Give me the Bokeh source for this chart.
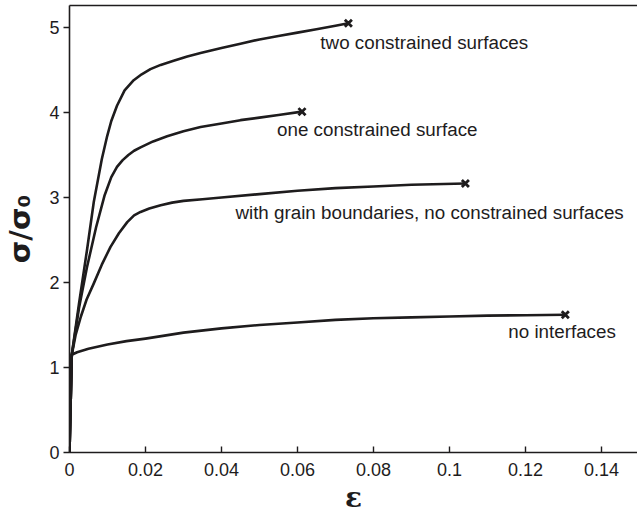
from bokeh.plotting import figure
from bokeh.models import ColumnDataSource, LinearAxis, FixedTicker
from bokeh.core.properties import value
from bokeh.embed import file_html
from bokeh.resources import INLINE

# Normalised stress-strain curves (strain, sigma / sigma_0)
strain_none = [0, 0.0006, 0.002, 0.005, 0.01, 0.015, 0.02, 0.03, 0.04, 0.05,
               0.06, 0.07, 0.08, 0.09, 0.10, 0.11, 0.12, 0.1305]
stress_none = [0, 1.15, 1.18, 1.22, 1.27, 1.31, 1.34, 1.41, 1.46, 1.50,
               1.53, 1.56, 1.58, 1.59, 1.60, 1.61, 1.615, 1.62]

strain_grain = [0, 0.0006, 0.0016, 0.003, 0.0045, 0.0064, 0.0085, 0.0108,
                0.013, 0.0152, 0.017, 0.0187, 0.021, 0.024, 0.027, 0.03,
                0.035, 0.04, 0.05, 0.06, 0.07, 0.08, 0.09, 0.1042]
stress_grain = [0, 1.15, 1.38, 1.60, 1.80, 1.99, 2.21, 2.42,
                2.58, 2.71, 2.79, 2.83, 2.87, 2.91, 2.94, 2.96,
                2.98, 3.00, 3.04, 3.08, 3.11, 3.13, 3.15, 3.165]

strain_one = [0, 0.0006, 0.0025, 0.0046, 0.007, 0.0092, 0.011, 0.0125,
              0.014, 0.0155, 0.017, 0.0187, 0.022, 0.0257, 0.03, 0.0345,
              0.04, 0.045, 0.05, 0.055, 0.0612]
stress_one = [0, 1.15, 1.70, 2.18, 2.65, 3.02, 3.24, 3.36,
              3.44, 3.50, 3.55, 3.59, 3.66, 3.72, 3.78, 3.83,
              3.87, 3.91, 3.94, 3.97, 4.01]

strain_two = [0, 0.0006, 0.0025, 0.0046, 0.0064, 0.0085, 0.0099, 0.011,
              0.0125, 0.0145, 0.0169, 0.019, 0.0213, 0.024, 0.0274, 0.031,
              0.0345, 0.04, 0.045, 0.05, 0.055, 0.06, 0.065, 0.07, 0.0734]
stress_two = [0, 1.15, 1.75, 2.38, 2.95, 3.45, 3.72, 3.90,
              4.08, 4.26, 4.38, 4.45, 4.51, 4.56, 4.61, 4.66,
              4.70, 4.76, 4.81, 4.86, 4.90, 4.94, 4.98, 5.02, 5.05]

curve_names = ["no interfaces",
               "with grain boundaries, no constrained surfaces",
               "one constrained surface",
               "two constrained surfaces"]

x_ticks = [0, 0.02, 0.04, 0.06, 0.08, 0.10, 0.12, 0.14]
x_tick_labels = ["0", "0.02", "0.04", "0.06", "0.08", "0.1", "0.12", "0.14"]
y_ticks = [0, 1, 2, 3, 4, 5]
y_tick_labels = ["0", "1", "2", "3", "4", "5"]

curves = [(strain_none, stress_none), (strain_grain, stress_grain),
          (strain_one, stress_one), (strain_two, stress_two)]

INK = "#1e1c1d"
FONT = "Liberation Sans"

p = figure(width=637, height=519, x_range=(0, 0.1495), y_range=(0, 5.259),
           output_backend="svg", toolbar_location=None,
           min_border_left=69, min_border_right=0,
           min_border_top=5, min_border_bottom=67)
p.background_fill_color = "white"
p.border_fill_color = "white"
p.grid.visible = False
p.outline_line_color = None

# curves and failure markers
for xs, ys in curves:
    p.line(xs, ys, line_color=INK, line_width=2.6, line_join="round")

end_src = ColumnDataSource(dict(
    x=[c[0][-1] for c in curves],
    y=[c[1][-1] for c in curves],
    name=curve_names,
    dx=[-57, -230, -25, -28],
    dy=[17, 29, 18, 19],
))
p.scatter("x", "y", source=end_src, marker="x", size=10,
          line_color=INK, line_width=2.8)
p.text("x", "y", text="name", source=end_src, x_offset="dx", y_offset="dy",
       text_font=value(FONT), text_font_size="18.8px", text_color=INK,
       text_align="left", text_baseline="middle")

# axes
xa = p.xaxis[0]
xa.ticker = FixedTicker(ticks=x_ticks)
xa.major_label_overrides = dict(zip(x_ticks, x_tick_labels))
ya = p.yaxis[0]
ya.ticker = FixedTicker(ticks=y_ticks)
ya.major_label_overrides = dict(zip(y_ticks, y_tick_labels))

for ax in (xa, ya):
    ax.axis_line_color = INK
    ax.axis_line_width = 1.6
    ax.major_tick_line_color = INK
    ax.major_tick_line_width = 1.4
    ax.minor_tick_line_color = None
    ax.major_label_text_font = FONT
    ax.major_label_text_font_size = "18px"
    ax.major_label_text_color = INK

xa.major_tick_in = 6
xa.major_tick_out = 0
xa.major_label_standoff = 10
ya.major_tick_in = 0
ya.major_tick_out = 6
ya.major_label_standoff = 4

xa.axis_label = "ε"
xa.axis_label_text_font = "DejaVu Serif"
xa.axis_label_text_font_style = "bold"
xa.axis_label_text_font_size = "28px"
xa.axis_label_text_color = INK
xa.axis_label_standoff = 2

ya.axis_label = "σ/σ₀"
ya.axis_label_text_font = "DejaVu Sans"
ya.axis_label_text_font_style = "bold"
ya.axis_label_text_font_size = "29px"
ya.axis_label_text_color = INK
ya.axis_label_standoff = 9

# top frame edge
top = LinearAxis(ticker=FixedTicker(ticks=[]), axis_line_color=INK,
                 axis_line_width=1.6, major_tick_line_color=None,
                 minor_tick_line_color=None,
                 major_label_text_font_size="0px")
p.add_layout(top, "above")

open("out.html", "w").write(file_html(p, INLINE))
